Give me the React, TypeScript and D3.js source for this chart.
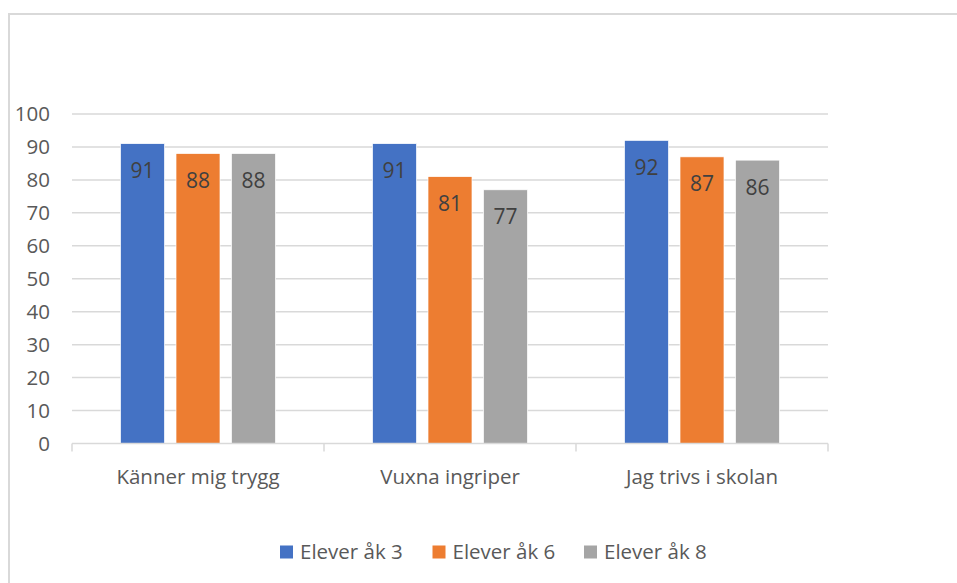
import { useRef, useEffect } from 'react';
import * as d3 from 'd3';

const categories = ['Känner mig trygg', 'Vuxna ingriper', 'Jag trivs i skolan'];
const seriesNames = ['Elever åk 3', 'Elever åk 6', 'Elever åk 8'];
const colors = ['#4472c4', '#ed7d31', '#a5a5a5'];
const values = [
  [91, 88, 88],
  [91, 81, 77],
  [92, 87, 86],
];
const yTicks = [0, 10, 20, 30, 40, 50, 60, 70, 80, 90, 100];

const W = 957;
const H = 583;
const FONT = '"Open Sans", sans-serif';

export default function App() {
  const svgRef = useRef<SVGSVGElement>(null);

  useEffect(() => {
    if (!svgRef.current) return;
    const svg = d3.select(svgRef.current);
    svg.selectAll('*').remove();

    // chart frame (clipped by the picture on the right and bottom)
    svg.append('rect')
      .attr('x', 9).attr('y', 14)
      .attr('width', 1000).attr('height', 700)
      .attr('fill', '#fff')
      .attr('stroke', '#d9d9d9')
      .attr('stroke-width', 2);

    const left = 72, right = 828, top = 114, bottom = 443.5;

    const y = d3.scaleLinear().domain([0, 100]).range([bottom, top]);
    const x0 = d3.scaleBand<string>()
      .domain(categories)
      .range([left, right])
      .paddingInner(0.385)
      .paddingOuter(0.1925);
    const x1 = d3.scaleBand<string>()
      .domain(seriesNames)
      .range([0, x0.bandwidth()])
      .paddingInner(0.207);

    // gridlines
    svg.append('g')
      .selectAll('line')
      .data(yTicks.filter((t) => t > 0))
      .join('line')
      .attr('x1', left).attr('x2', right)
      .attr('y1', (d) => y(d)).attr('y2', (d) => y(d))
      .attr('stroke', '#d9d9d9')
      .attr('stroke-width', 1.5);

    // y labels
    svg.append('g')
      .selectAll('text')
      .data(yTicks)
      .join('text')
      .attr('x', 50)
      .attr('y', (d) => y(d))
      .attr('dy', '0.36em')
      .attr('text-anchor', 'end')
      .attr('font-family', FONT)
      .attr('font-size', 20.5)
      .attr('fill', '#595959')
      .text((d) => d);

    // bars
    const groups = svg.append('g')
      .selectAll('g')
      .data(categories)
      .join('g')
      .attr('transform', (c) => `translate(${x0(c)},0)`);

    groups.each(function (c, ci) {
      const g = d3.select(this);
      seriesNames.forEach((s, si) => {
        const v = values[ci][si];
        g.append('rect')
          .attr('x', x1(s)!)
          .attr('y', y(v))
          .attr('width', x1.bandwidth())
          .attr('height', bottom - y(v))
          .attr('fill', colors[si])
          .attr('stroke', '#fff')
          .attr('stroke-width', 0.7);
        g.append('text')
          .attr('x', x1(s)! + x1.bandwidth() / 2)
          .attr('y', y(v) + 34.5)
          .attr('text-anchor', 'middle')
          .attr('font-family', FONT)
          .attr('font-size', 21)
          .attr('fill', '#404040')
          .text(v);
      });
    });

    // x axis
    svg.append('line')
      .attr('x1', left).attr('x2', right)
      .attr('y1', bottom).attr('y2', bottom)
      .attr('stroke', '#d9d9d9')
      .attr('stroke-width', 1.5);
    const tickXs = [left, ...categories.map((c) => x0(c)! + x0.bandwidth() + x0.step() * 0.1925)];
    svg.append('g')
      .selectAll('line')
      .data(tickXs)
      .join('line')
      .attr('x1', (d) => d).attr('x2', (d) => d)
      .attr('y1', bottom).attr('y2', bottom + 8)
      .attr('stroke', '#d9d9d9')
      .attr('stroke-width', 1.5);

    svg.append('g')
      .selectAll('text')
      .data(categories)
      .join('text')
      .attr('x', (c) => x0(c)! + x0.bandwidth() / 2)
      .attr('y', 484)
      .attr('text-anchor', 'middle')
      .attr('font-family', FONT)
      .attr('font-size', 20.5)
      .attr('fill', '#595959')
      .text((c) => c);

    // legend
    const legendX = [280, 432.5, 584];
    const legend = svg.append('g')
      .selectAll('g')
      .data(seriesNames)
      .join('g')
      .attr('transform', (_, i) => `translate(${legendX[i]},552)`);
    legend.append('rect')
      .attr('x', 0).attr('y', -6.5)
      .attr('width', 13).attr('height', 13)
      .attr('fill', (_, i) => colors[i]);
    legend.append('text')
      .attr('x', 20).attr('y', 0)
      .attr('dy', '0.36em')
      .attr('font-family', FONT)
      .attr('font-size', 20.5)
      .attr('fill', '#595959')
      .text((d) => d);
  }, []);

  return (
    <svg
      ref={svgRef}
      width={W}
      height={H}
      style={{ position: 'absolute', left: 0, top: 0, background: '#fff' }}
    />
  );
}
